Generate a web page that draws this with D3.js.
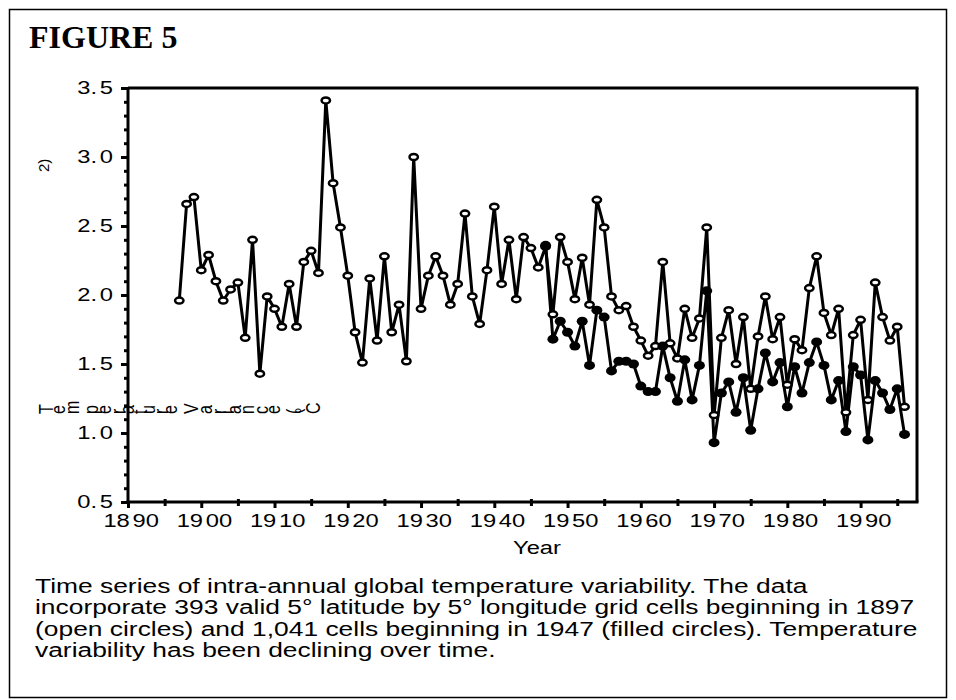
<!DOCTYPE html>
<html><head><meta charset="utf-8">
<script src="https://cdn.jsdelivr.net/npm/d3@7/dist/d3.min.js"></script>
<style>body{margin:0;background:#fff}</style>
</head><body>
<svg id="chart" width="956" height="700"></svg>
<script>
// ---- data ----
const openYears = [1897,1898,1899,1900,1901,1902,1903,1904,1905,1906,1907,1908,1909,1910,1911,1912,1913,1914,1915,1916,1917,1918,1919,1920,1921,1922,1923,1924,1925,1926,1927,1928,1929,1930,1931,1932,1933,1934,1935,1936,1937,1938,1939,1940,1941,1942,1943,1944,1945,1946,1947,1948,1949,1950,1951,1952,1953,1954,1955,1956,1957,1958,1959,1960,1961,1962,1963,1964,1965,1966,1967,1968,1969,1970,1971,1972,1973,1974,1975,1976,1977,1978,1979,1980,1981,1982,1983,1984,1985,1986,1987,1988,1989,1990,1991,1992,1993,1994,1995,1996];
const openValues = [1.96,2.66,2.71,2.18,2.29,2.10,1.96,2.04,2.09,1.69,2.40,1.43,1.99,1.90,1.77,2.08,1.77,2.24,2.32,2.16,3.41,2.81,2.49,2.14,1.73,1.51,2.12,1.67,2.28,1.73,1.93,1.52,3.00,1.90,2.14,2.28,2.14,1.93,2.08,2.59,1.99,1.79,2.18,2.64,2.08,2.40,1.97,2.42,2.34,2.20,2.35,1.86,2.42,2.24,1.97,2.27,1.93,2.69,2.49,1.99,1.89,1.92,1.77,1.67,1.56,1.63,2.24,1.65,1.54,1.90,1.69,1.83,2.49,1.13,1.69,1.89,1.50,1.84,1.32,1.70,1.99,1.68,1.84,1.35,1.68,1.60,2.05,2.28,1.87,1.71,1.90,1.15,1.71,1.82,1.24,2.09,1.84,1.67,1.77,1.19];
const filledYears = [1947,1948,1949,1950,1951,1952,1953,1954,1955,1956,1957,1958,1959,1960,1961,1962,1963,1964,1965,1966,1967,1968,1969,1970,1971,1972,1973,1974,1975,1976,1977,1978,1979,1980,1981,1982,1983,1984,1985,1986,1987,1988,1989,1990,1991,1992,1993,1994,1995,1996];
const filledValues = [2.36,1.68,1.81,1.73,1.63,1.81,1.49,1.89,1.84,1.45,1.52,1.52,1.50,1.34,1.30,1.30,1.63,1.40,1.23,1.53,1.24,1.49,2.03,0.93,1.29,1.37,1.15,1.40,1.02,1.32,1.58,1.37,1.51,1.19,1.48,1.29,1.51,1.66,1.49,1.24,1.38,1.01,1.48,1.42,0.95,1.38,1.29,1.17,1.32,0.99];
const xTickYears = [1890,1900,1910,1920,1930,1940,1950,1960,1970,1980,1990];
const xMinorYears = [1895,1905,1915,1925,1935,1945,1955,1965,1975,1985,1995];
const yTickValues = [0.5,1.0,1.5,2.0,2.5,3.0,3.5];
const titleText = "FIGURE 5";
const xLabelText = "Year";
const yLabelText = "Temperature Variance (°C";
const yLabelTail = "2)";
const captionLines = [
  "Time series of intra-annual global temperature variability. The data",
  "incorporate 393 valid 5° latitude by 5° longitude grid cells beginning in 1897",
  "(open circles) and 1,041 cells beginning in 1947 (filled circles). Temperature",
  "variability has been declining over time."
];

// ---- layout ----
const L = 128, R = 917, T = 88, B = 502;
const SX = 1.32; // horizontal stretch of the original's text
const svg = d3.select("#chart");
const sans = "'Liberation Sans', Arial, sans-serif";

svg.append("rect").attr("x",9.5).attr("y",9.5).attr("width",937).attr("height",688)
  .attr("fill","none").attr("stroke","#000").attr("stroke-width",1.5);

svg.append("text").attr("x",29).attr("y",48).text(titleText)
  .attr("font-family","'Liberation Serif','Times New Roman',serif").attr("font-weight","bold")
  .attr("font-size",32);

const x = d3.scaleLinear().domain([1890,1997.7]).range([L,R]);
const y = d3.scaleLinear().domain([0.5,3.5]).range([B,T]);

// frame lines top/right
svg.append("line").attr("x1",L).attr("x2",R+1.5).attr("y1",T).attr("y2",T).attr("stroke","#000").attr("stroke-width",3);
svg.append("line").attr("x1",R).attr("x2",R).attr("y1",T).attr("y2",B).attr("stroke","#000").attr("stroke-width",3);

// split a tick label into two tspans with a small gap, like the original typesetting
function gapLabel(sel, splitAt, gap) {
  sel.each(function() {
    const t = d3.select(this), s = t.text();
    t.text(null);
    t.append("tspan").text(s.slice(0, splitAt));
    t.append("tspan").attr("dx", gap).text(s.slice(splitAt));
  });
}

// y axis
const yAxisMinor = d3.axisLeft(y).tickValues(d3.range(5,36).map(d=>d/10)).tickSize(4).tickFormat("");
const gyMinor = svg.append("g").attr("transform",`translate(${L},0)`).call(yAxisMinor);
gyMinor.select(".domain").remove();
gyMinor.selectAll("line").attr("stroke-width",3);
const yAxis = d3.axisLeft(y).tickValues(yTickValues).tickSize(7).tickPadding(0).tickFormat(d3.format(".1f"));
const gy = svg.append("g").attr("transform",`translate(${L},0)`).call(yAxis);
gy.select(".domain").attr("stroke-width",3).attr("d",`M0,${T}V${B+1.5}`);
gy.selectAll("line").attr("stroke-width",3);
gy.selectAll("text").attr("font-family",sans).attr("font-size",18).attr("fill","#000")
  .attr("x",-15/SX).attr("transform",`scale(${SX},1)`).call(gapLabel, 2, 2);

// x axis
const xAxisMinor = d3.axisBottom(x).tickValues(xMinorYears).tickSize(4).tickFormat("");
const gxMinor = svg.append("g").attr("transform",`translate(0,${B})`).call(xAxisMinor);
gxMinor.select(".domain").remove();
gxMinor.selectAll("line").attr("stroke-width",3).attr("y1",-3);
const xAxis = d3.axisBottom(x).tickValues(xTickYears).tickSize(6).tickPadding(6).tickFormat(d3.format("d"));
const gx = svg.append("g").attr("transform",`translate(0,${B})`).call(xAxis);
gx.select(".domain").attr("stroke-width",3).attr("d",`M${L-1.5},0H${R+1.5}`);
gx.selectAll("line").attr("stroke-width",3);
gx.selectAll("text").attr("font-family",sans).attr("font-size",18).attr("fill","#000")
  .attr("x",2).attr("transform",`scale(${SX},1)`).call(gapLabel, 2, 2);

svg.append("text").attr("transform",`translate(537,554) scale(${SX},1)`).attr("text-anchor","middle")
  .attr("font-family",sans).attr("font-size",18).text(xLabelText);

// garbled y label (glyphs rotated individually, laid out horizontally)
svg.append("text").attr("transform",`translate(53,414) scale(${SX},1)`).attr("rotate",-90)
  .attr("font-family",sans).attr("font-size",16).attr("letter-spacing",1.3).text(yLabelText);
svg.append("text").attr("transform",`translate(49,172) rotate(-90)`)
  .attr("font-family",sans).attr("font-size",15).text(yLabelTail);

// series
const openData = openYears.map((yr,i)=>({year:yr, v:openValues[i]}));
const filledData = filledYears.map((yr,i)=>({year:yr, v:filledValues[i]}));
const line = d3.line().x(d=>x(d.year)).y(d=>y(d.v));

svg.append("path").datum(openData).attr("d",line).attr("fill","none").attr("stroke","#000").attr("stroke-width",3).attr("stroke-linejoin","round");
svg.append("path").datum(filledData).attr("d",line).attr("fill","none").attr("stroke","#000").attr("stroke-width",3).attr("stroke-linejoin","round");

svg.append("g").selectAll("ellipse").data(openData).join("ellipse")
  .attr("cx",d=>x(d.year)).attr("cy",d=>y(d.v)).attr("rx",4.2).attr("ry",3.0)
  .attr("fill","#fff").attr("stroke","#000").attr("stroke-width",2.5);
svg.append("g").selectAll("ellipse").data(filledData).join("ellipse")
  .attr("cx",d=>x(d.year)).attr("cy",d=>y(d.v)).attr("rx",5.5).attr("ry",4.5)
  .attr("fill","#000");

// caption (horizontally stretched like the original)
svg.append("g").attr("transform",`translate(35,0) scale(${SX},1)`)
  .selectAll("text").data(captionLines).join("text")
  .attr("x",0).attr("y",(d,i)=>593+i*21.5)
  .attr("font-family",sans).attr("font-size",20).text(d=>d);
</script>
</body></html>
